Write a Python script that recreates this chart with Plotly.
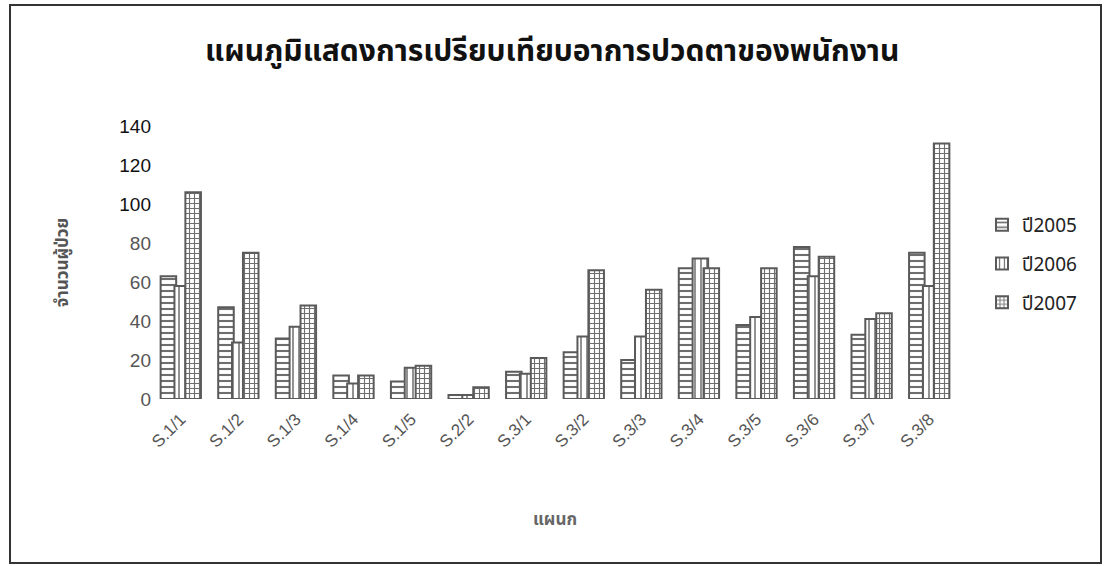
import plotly.graph_objects as go

# Departments and yearly counts of staff reporting eye pain
departments = ["S.1/1", "S.1/2", "S.1/3", "S.1/4", "S.1/5", "S.2/2", "S.3/1",
               "S.3/2", "S.3/3", "S.3/4", "S.3/5", "S.3/6", "S.3/7", "S.3/8"]
y2005 = [63, 47, 31, 12, 9, 2, 14, 24, 20, 67, 38, 78, 33, 75]
y2006 = [58, 29, 37, 8, 16, 2, 13, 32, 32, 72, 42, 63, 41, 58]
y2007 = [106, 75, 48, 12, 17, 6, 21, 66, 56, 67, 67, 73, 44, 131]
series_names = ["ปี2005", "ปี2006", "ปี2007"]
y_ticks = [0, 20, 40, 60, 80, 100, 120, 140]

W, H = 1111, 566
L, R, T, B = 152, 153, 126, 167
PW, PH = W - L - R, H - T - B

OUTLINE = "#5a5a5a"
PAT = "#6e6e6e"
FONT = "Liberation Sans, Arial, sans-serif"
THAI = "Noto Sans Thai, Loma, Garuda, Noto Sans, sans-serif"

styles = [
    dict(shape="-", size=6, solidity=0.35, offset=-0.35),
    dict(shape="|", size=6, solidity=0.25, offset=-0.11),
    dict(shape="+", size=5, solidity=0.4, offset=0.08),
]

fig = go.Figure()
for i, (name, vals) in enumerate(zip(series_names, [y2005, y2006, y2007])):
    st = styles[i]
    fig.add_trace(go.Bar(
        x=departments, y=vals, name=name,
        width=0.27, offset=st["offset"],
        legendgroup=name,
        marker=dict(
            color="white",
            line=dict(color=OUTLINE, width=2),
            pattern=dict(shape=st["shape"], size=st["size"], solidity=st["solidity"],
                         fgcolor=PAT, bgcolor="white", fillmode="replace"),
        ),
    ))

def px_x(p):
    return (p - L) / PW

def px_y(p):
    return (H - B - p) / PH

tick_text = [
    f'<span style="color:{"#111" if v >= 100 else "#555"}">{v}</span>' for v in y_ticks
]

fig.update_layout(
    width=W, height=H,
    margin=dict(l=L, r=R, t=T, b=B),
    paper_bgcolor="white", plot_bgcolor="white",
    barmode="overlay",
    showlegend=True,
    title=dict(
        text="<b>แผนภูมิแสดงการเปรียบเทียบอาการปวดตาของพนักงาน</b>",
        x=0.497, xanchor="center", y=1 - 50 / H, yanchor="middle",
        font=dict(family=THAI, size=30, color="#111"),
    ),
    xaxis=dict(
        tickangle=-45, showgrid=False, showline=False, zeroline=False,
        tickfont=dict(family=FONT, size=17, color="#555"),
        ticklabelstandoff=6,
        title=dict(text="<b>แผนก</b>", font=dict(family=THAI, size=17, color="#666"),
                   standoff=62),
    ),
    yaxis=dict(
        range=[0, 140], tickvals=y_ticks, ticktext=tick_text,
        showgrid=False, showline=False, zeroline=False,
        tickfont=dict(family=FONT, size=19, color="#555"),
        ticks="", ticklen=0,
        title=dict(text="<b>จำนวนผู้ป่วย</b>", font=dict(family=THAI, size=17, color="#555"),
                   standoff=46),
    ),
    legend=dict(
        x=px_x(982), y=px_y(206), xanchor="left", yanchor="top",
        font=dict(family=THAI, size=19, color="#222"),
        tracegroupgap=11, bgcolor="rgba(0,0,0,0)",
    ),
    shapes=[dict(
        type="rect", xref="paper", yref="paper",
        x0=px_x(10), x1=px_x(1101), y0=px_y(563), y1=px_y(5),
        line=dict(color="#333", width=2), fillcolor="rgba(0,0,0,0)",
    )],
)

fig.write_html("out.html")
